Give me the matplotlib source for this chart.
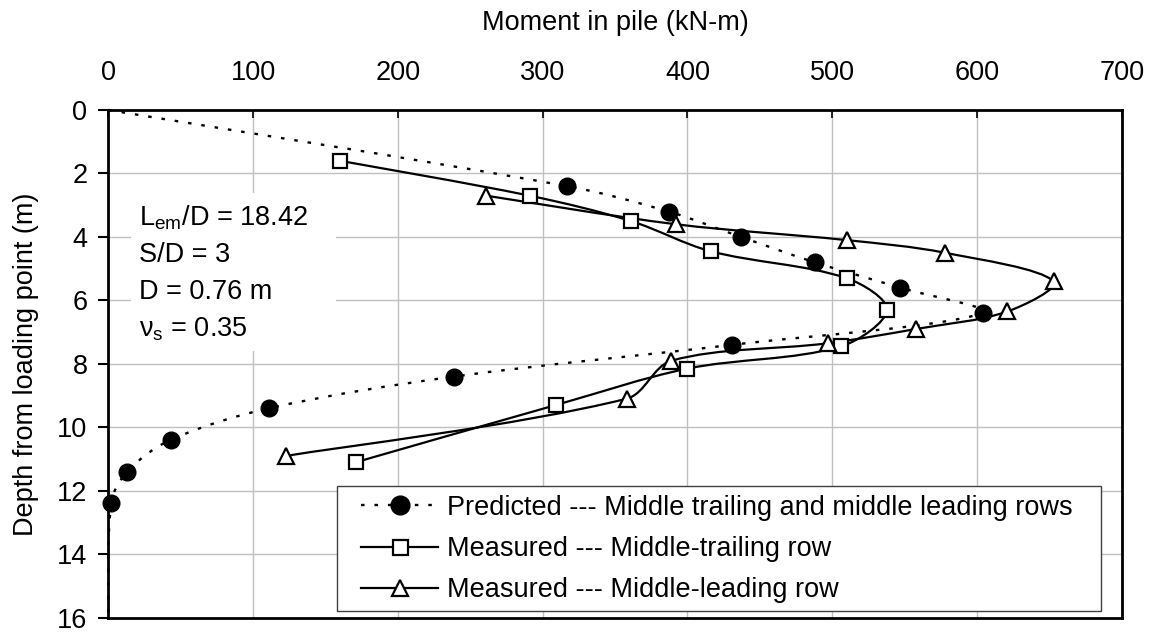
import numpy as np
import matplotlib
matplotlib.use('Agg')
import matplotlib.pyplot as plt
from matplotlib.path import Path
from matplotlib.patches import PathPatch, Rectangle
from matplotlib.lines import Line2D

plt.rcParams['font.family'] = ['Liberation Sans', 'DejaVu Sans']
plt.rcParams['mathtext.fontset'] = 'custom'
plt.rcParams['mathtext.rm'] = 'Liberation Sans'
plt.rcParams['mathtext.it'] = 'Liberation Sans:italic'

# Predicted --- middle trailing and middle leading rows (moment kN-m, depth m)
pred_moment = [0, 317, 387, 437, 488, 547, 604, 431, 239, 111, 43, 13, 2, 0]
pred_depth = [0, 2.4, 3.2, 4.0, 4.8, 5.6, 6.4, 7.4, 8.4, 9.4, 10.4, 11.4, 12.4, 16]

# Measured --- middle-trailing row
trail_moment = [160, 291, 361, 416, 510, 538, 506, 400, 309, 171]
trail_depth = [1.6, 2.7, 3.5, 4.45, 5.3, 6.3, 7.45, 8.15, 9.3, 11.1]

# Measured --- middle-leading row
lead_moment = [261, 392, 510, 578, 653, 621, 558, 497, 389, 358, 123]
lead_depth = [2.7, 3.6, 4.1, 4.5, 5.4, 6.35, 6.9, 7.35, 7.9, 9.1, 10.9]

x_ticks = [0, 100, 200, 300, 400, 500, 600, 700]
y_ticks = [0, 2, 4, 6, 8, 10, 12, 14, 16]

info_lines = [r'L$_{\mathrm{em}}$/D = 18.42', 'S/D = 3', 'D = 0.76 m',
              r'ν$_{\mathrm{s}}$ = 0.35']

FS = 19.5

fig = plt.figure(figsize=(11.57, 6.37), dpi=100)
ax = fig.add_axes([0.0936, 0.0303, 0.8759, 0.797])
ax.set_xlim(0, 700)
ax.set_ylim(16, 0)
ax.xaxis.tick_top()
ax.xaxis.set_label_position('top')
ax.set_xticks(x_ticks)
ax.set_yticks(y_ticks)
ax.tick_params(axis='x', direction='in', length=6, width=1.2, pad=17, labelsize=FS)
ax.tick_params(axis='y', direction='out', length=7, width=1.5, pad=8, labelsize=FS)
ax.set_xlabel('Moment in pile (kN-m)', fontsize=FS, labelpad=22)
ax.set_ylabel('Depth from loading point (m)', fontsize=FS, labelpad=13)
ax.grid(True, color='#c0c0c0', linewidth=1.0)
ax.set_axisbelow(True)
for s in ax.spines.values():
    s.set_linewidth(2.0)


def smooth_path(xs, ys):
    # smoothed line through the points (Bezier, tangents weighted by segment length),
    # built in screen space so the curve shape does not depend on axis units
    pts = ax.transData.transform(np.column_stack([xs, ys]))
    n = len(pts)
    seg = np.hypot(*np.diff(pts, axis=0).T)
    c_out = []
    c_in = []
    for i in range(n):
        if i == 0 or i == n - 1:
            j = 1 if i == 0 else n - 2
            t = (pts[j] - pts[i]) / 6
            c_out.append(pts[i] + t)
            c_in.append(pts[i] + t)
            continue
        tan = pts[i + 1] - pts[i - 1]
        a, b = seg[i - 1], seg[i]
        c_out.append(pts[i] + tan * b / (a + b) / 3)
        c_in.append(pts[i] - tan * a / (a + b) / 3)
    verts = [pts[0]]
    codes = [Path.MOVETO]
    for i in range(n - 1):
        verts += [c_out[i], c_in[i + 1], pts[i + 1]]
        codes += [Path.CURVE4] * 3
    verts = ax.transData.inverted().transform(np.array(verts))
    return Path(verts, codes)


# white box behind the parameters
ax.add_patch(Rectangle((16, 2.6), 141, 5.0, facecolor='white', edgecolor='none', zorder=1.5))
for i, t in enumerate(info_lines):
    ax.text(21, 3.4 + i * 1.17, t, fontsize=FS, va='center', ha='left', zorder=2)

dot_style = (0, (1.5, 4.2))
ax.add_patch(PathPatch(smooth_path(pred_moment, pred_depth), fill=False,
                       edgecolor='black', linewidth=1.7, linestyle=dot_style, zorder=3,
                       clip_on=False))
ax.add_patch(PathPatch(smooth_path(trail_moment, trail_depth), fill=False,
                       edgecolor='black', linewidth=1.6, zorder=3))
ax.add_patch(PathPatch(smooth_path(lead_moment, lead_depth), fill=False,
                       edgecolor='black', linewidth=1.6, zorder=3))

ax.plot(pred_moment[1:-1], pred_depth[1:-1], ls='none', marker='o', markersize=12,
        color='black', zorder=4, clip_on=False)
ax.plot(trail_moment, trail_depth, ls='none', marker='s', markersize=10.3,
        markerfacecolor='white', markeredgecolor='black', markeredgewidth=1.6, zorder=4)
ax.plot(lead_moment, lead_depth, ls='none', marker='^', markersize=11.5,
        markerfacecolor='white', markeredgecolor='black', markeredgewidth=1.6, zorder=4)

# legend box (frame drawn separately to match the wide padding)
ax.add_patch(Rectangle((0.2254, 0.0138), 0.7539, 0.2462, transform=ax.transAxes,
                       facecolor='white', edgecolor='#404040', linewidth=1.0, zorder=4.5))
handles = [
    Line2D([], [], color='black', lw=1.7, ls=dot_style, marker='o', markersize=13.5),
    Line2D([], [], color='black', lw=1.6, marker='s', markersize=10.8,
           markerfacecolor='white', markeredgewidth=1.6),
    Line2D([], [], color='black', lw=1.6, marker='^', markersize=11.5,
           markerfacecolor='white', markeredgewidth=1.6),
]
labels = ['Predicted --- Middle trailing and middle leading rows',
          'Measured --- Middle-trailing row',
          'Measured --- Middle-leading row']
leg = ax.legend(handles, labels, loc='center left', bbox_to_anchor=(0.2494, 0.1353),
                borderaxespad=0, borderpad=0, fontsize=FS, frameon=False,
                handlelength=2.86, handletextpad=0.31, labelspacing=0.57)
leg.set_zorder(5)

fig.savefig('out.png', dpi=100)
